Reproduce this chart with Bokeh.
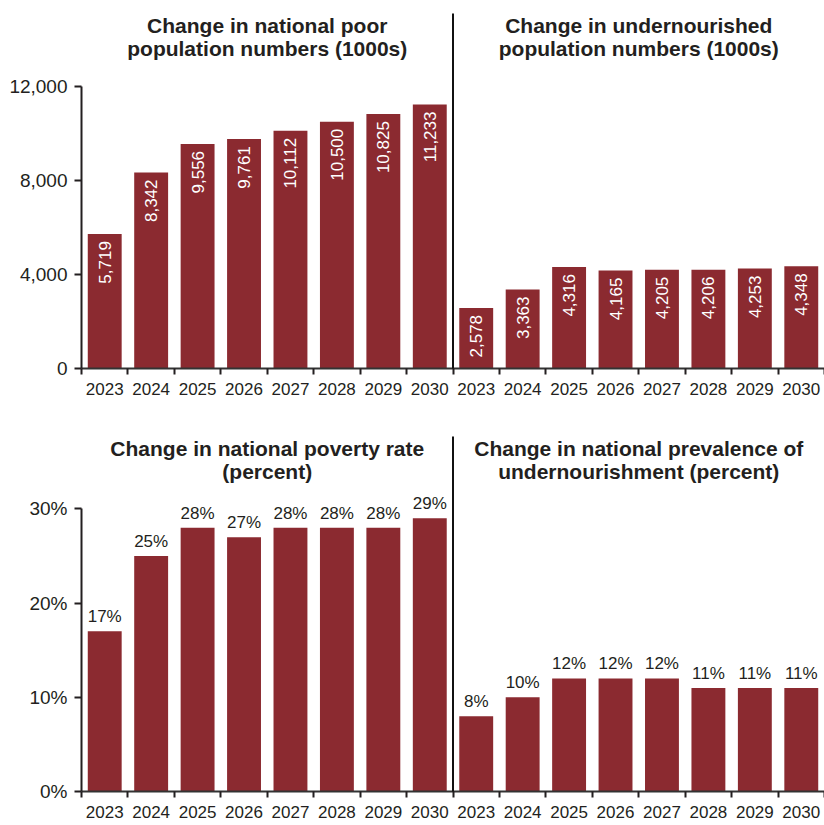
from math import pi
from bokeh.plotting import figure
from bokeh.layouts import column
from bokeh.models import (FixedTicker, NumeralTickFormatter, PrintfTickFormatter,
                          Range1d, Label, Arrow, ColumnDataSource, LabelSet)
from bokeh.core.properties import value
from bokeh.embed import file_html
from bokeh.resources import INLINE

# ---------------- data ----------------
years = ["2023", "2024", "2025", "2026", "2027", "2028", "2029", "2030"]
poor_pop = [5719, 8342, 9556, 9761, 10112, 10500, 10825, 11233]
undernourished_pop = [2578, 3363, 4316, 4165, 4205, 4206, 4253, 4348]
poverty_rate = [17, 25, 28, 27, 28, 28, 28, 29]
undernourishment_rate = [8, 10, 12, 12, 12, 11, 11, 11]
pop_ticks = [0, 4000, 8000, 12000]
rate_ticks = [0, 10, 20, 30]
titles_row1 = [["Change in national poor", "population numbers (1000s)"],
               ["Change in undernourished", "population numbers (1000s)"]]
titles_row2 = [["Change in national poverty rate", "(percent)"],
               ["Change in national prevalence of", "undernourishment (percent)"]]

BAR = "#8B2A30"
INK = "#231F20"
FONT = "Liberation Sans"


def make_row(left, right, ticks, fmt, labels, titles, px_per_unit, frame_h,
             bottom, rotated):
    n = len(left)
    xs = [i + 0.5 for i in range(2 * n)]
    vals = list(left) + list(right)
    src = ColumnDataSource(dict(x=xs, top=vals, label=labels))
    y_end = frame_h / px_per_unit
    p = figure(frame_width=743, frame_height=frame_h,
               x_range=Range1d(0, 2 * n), y_range=Range1d(0, y_end),
               output_backend="svg", toolbar_location=None,
               min_border_left=81, min_border_right=0,
               min_border_top=0, min_border_bottom=bottom)
    p.grid.visible = False
    p.outline_line_color = None
    p.vbar(x="x", top="top", width=0.73, source=src, fill_color=BAR,
           line_color=None)

    # x axis
    xa = p.xaxis[0]
    xa.ticker = FixedTicker(ticks=xs, minor_ticks=list(range(2 * n + 1)))
    xa.major_label_overrides = {x: years[i % n] for i, x in enumerate(xs)}
    xa.major_tick_out = 0
    xa.major_tick_in = 0
    xa.minor_tick_out = 6
    xa.minor_tick_in = 0
    xa.minor_tick_line_width = 2
    xa.minor_tick_line_color = INK
    xa.axis_line_width = 2
    xa.axis_line_color = "#333333"
    xa.major_label_standoff = 8
    xa.major_label_text_font = FONT
    xa.major_label_text_font_size = "17px"
    xa.major_label_text_color = INK

    # y axis
    ya = p.yaxis[0]
    ya.ticker = FixedTicker(ticks=ticks)
    ya.formatter = fmt
    ya.bounds = (ticks[0], ticks[-1])
    ya.major_tick_out = 7
    ya.major_tick_in = 0
    ya.minor_tick_out = 0
    ya.minor_tick_in = 0
    ya.major_tick_line_width = 2
    ya.major_tick_line_color = INK
    ya.axis_line_width = 2
    ya.axis_line_color = INK
    ya.major_label_standoff = 7
    ya.major_label_text_font = FONT
    ya.major_label_text_font_size = "19px"
    ya.major_label_text_color = INK

    # value labels
    if rotated:
        ls = LabelSet(x="x", y="top", text="label", source=src, angle=pi / 2,
                      text_align="right", text_baseline="middle", y_offset=-7,
                      text_color="white", text_font=value(FONT),
                      text_font_size="17px")
    else:
        ls = LabelSet(x="x", y="top", text="label", source=src,
                      text_align="center", text_baseline="bottom", y_offset=5,
                      text_color=INK, text_font=value(FONT),
                      text_font_size="17px")
    p.add_layout(ls)

    # divider between the two panels
    p.add_layout(Arrow(end=None, x_start=n, x_end=n,
                       y_start=-(bottom + 2) / px_per_unit,
                       y_end=355 / px_per_unit,
                       line_width=2, line_color="#111111"))

    # panel titles
    for k, (l1, l2) in enumerate(titles):
        cx = n / 2 + k * n
        for text, off in ((l1, 343), (l2, 320)):
            p.add_layout(Label(x=cx, y=off / px_per_unit, text=text,
                               text_align="center", text_baseline="middle",
                               text_font=FONT, text_font_style="bold",
                               text_font_size="21px", text_color=INK))
    return p


row1_labels = [f"{v:,}" for v in poor_pop + undernourished_pop]
row2_labels = [f"{v}%" for v in poverty_rate + undernourishment_rate]

p1 = make_row(poor_pop, undernourished_pop, pop_ticks,
              NumeralTickFormatter(format="0,0"), row1_labels, titles_row1,
              282 / 12000, 368, 44, True)
p2 = make_row(poverty_rate, undernourishment_rate, rate_ticks,
              PrintfTickFormatter(format="%d%%"), row2_labels, titles_row2,
              282.6 / 30, 379, 34, False)

layout = column(p1, p2, spacing=0)
open("out.html", "w").write(file_html(layout, INLINE))
